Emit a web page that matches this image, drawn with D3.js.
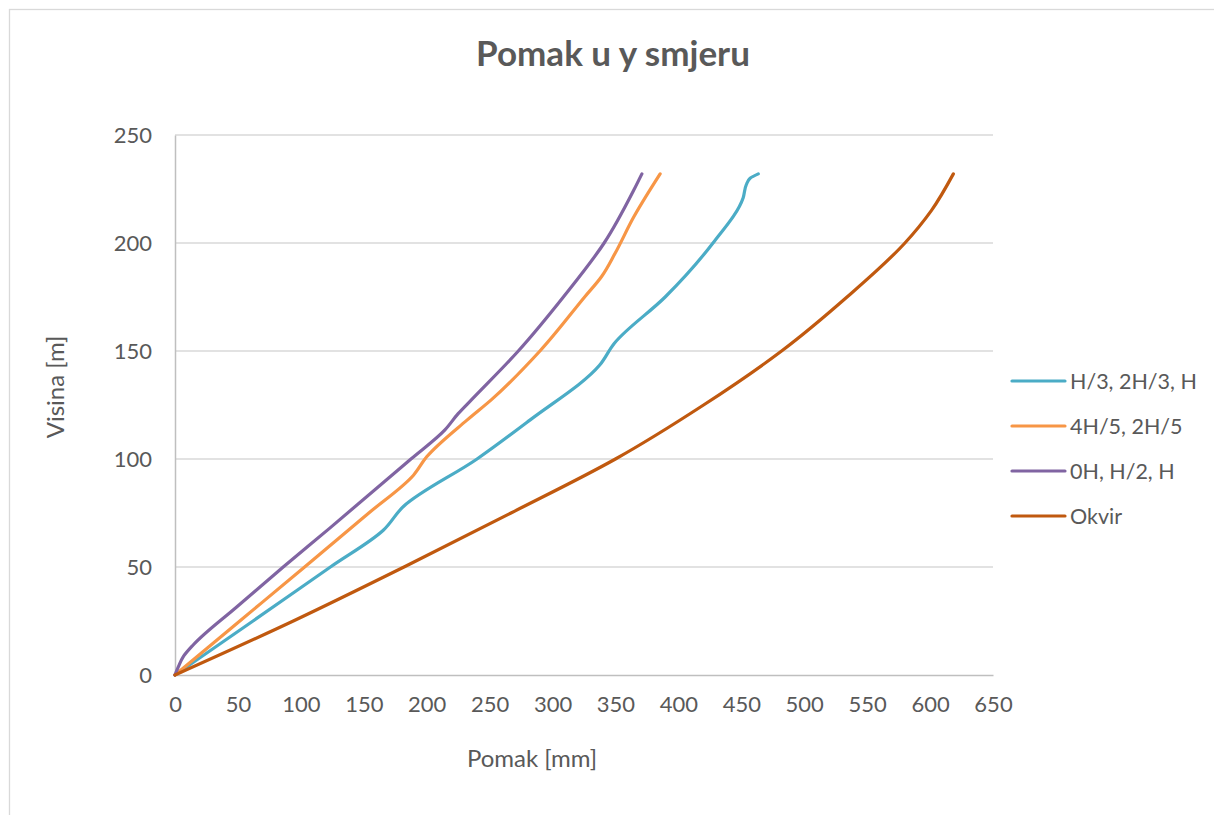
<!DOCTYPE html>
<html>
<head>
<meta charset="utf-8">
<script src="https://cdn.jsdelivr.net/npm/d3@7"></script>
<style>
  html, body { margin: 0; padding: 0; background: #ffffff; }
  svg { display: block; font-family: Lato, "Open Sans", sans-serif; }
</style>
</head>
<body>
<svg id="chart" width="1214" height="815"></svg>
<script>
// Storey heights [m] and lateral displacements [mm] per model
const hCyan   = [0, 25, 50, 67, 78, 100, 118, 143.5, 153.5, 175, 200, 221, 227, 230, 232];
const vCyan   = [0, 62, 123.5, 165.5, 181.5, 240, 282, 337.5, 349, 389.5, 427.5, 451.5, 454, 457, 463.5];

const hOrange = [0, 25, 50, 75, 92.5, 101, 118, 127.5, 150, 175, 184.5, 195, 212, 232];
const vOrange = [0, 51.5, 103, 154, 189.5, 200, 232, 251.5, 290, 325.5, 339, 349.5, 364.5, 385.5];

const hPurple = [0, 4, 8.5, 14, 31.5, 50, 68, 100, 113.5, 121, 127.5, 150, 175, 200, 225, 232];
const vPurple = [0, 2.8, 6.6, 14.6, 49, 86, 123, 187.5, 214.5, 225, 235.7, 272.8, 308.6, 341, 365, 371];

const hOkvir  = [0, 25, 50, 75, 100, 125, 150, 175, 200, 215, 232];
const vOkvir  = [0, 94, 182, 267, 350, 420, 482, 534, 580, 601, 618.5];

const seriesNames  = ["H/3, 2H/3, H", "4H/5, 2H/5", "0H, H/2, H", "Okvir"];
const seriesColors = ["#4BACC6", "#F79646", "#8064A2", "#C0590F"];

const xTicks = [0, 50, 100, 150, 200, 250, 300, 350, 400, 450, 500, 550, 600, 650];
const yTicks = [0, 50, 100, 150, 200, 250];

const chartTitle = "Pomak u y smjeru";
const xTitle = "Pomak [mm]";
const yTitle = "Visina [m]";

const series = [
  { h: hCyan,   v: vCyan },
  { h: hOrange, v: vOrange },
  { h: hPurple, v: vPurple },
  { h: hOkvir,  v: vOkvir }
].map((s, i) => ({
  name: seriesNames[i],
  color: seriesColors[i],
  points: s.h.map((h, j) => ({ h: h, v: s.v[j] }))
}));

const svg = d3.select("#chart");
const textColor = "#595959";

// outer chart frame
svg.append("rect")
  .attr("x", 9.5).attr("y", 9.5)
  .attr("width", 1240).attr("height", 840)
  .attr("fill", "#ffffff")
  .attr("stroke", "#D9D9D9")
  .attr("stroke-width", 1.3);

const plot = { left: 175, right: 993, top: 135, bottom: 675 };

const x = d3.scaleLinear().domain([0, 650]).range([plot.left, plot.right]);
const y = d3.scaleLinear().domain([0, 250]).range([plot.bottom, plot.top]);

// horizontal gridlines
svg.append("g")
  .selectAll("line")
  .data(yTicks.filter(t => t > 0))
  .join("line")
  .attr("x1", plot.left).attr("x2", plot.right)
  .attr("y1", d => y(d)).attr("y2", d => y(d))
  .attr("stroke", "#D9D9D9")
  .attr("stroke-width", 1.5);

// y axis
const yAxis = svg.append("g")
  .attr("transform", `translate(${plot.left},0)`)
  .call(d3.axisLeft(y).tickValues(yTicks).tickSize(0).tickPadding(23));
yAxis.select(".domain").attr("stroke", "#BFBFBF").attr("stroke-width", 1.5);
yAxis.selectAll("text")
  .attr("fill", textColor)
  .style("font-size", "22px")
  .style("font-family", "Lato, 'Open Sans', sans-serif");

// x axis
const xAxis = svg.append("g")
  .attr("transform", `translate(0,${plot.bottom})`)
  .call(d3.axisBottom(x).tickValues(xTicks).tickSize(0).tickPadding(21));
xAxis.select(".domain").attr("stroke", "#BFBFBF").attr("stroke-width", 1.5);
xAxis.selectAll("text")
  .attr("fill", textColor)
  .style("font-size", "22px")
  .style("font-family", "Lato, 'Open Sans', sans-serif");

// series lines
const line = d3.line()
  .x(d => x(d.v))
  .y(d => y(d.h))
  .curve(d3.curveMonotoneY);

svg.append("g")
  .selectAll("path")
  .data(series)
  .join("path")
  .attr("d", d => line(d.points))
  .attr("fill", "none")
  .attr("stroke", d => d.color)
  .attr("stroke-width", 3.2)
  .attr("stroke-linecap", "round")
  .attr("stroke-linejoin", "round");

// title
svg.append("text")
  .attr("x", 613).attr("y", 66)
  .attr("text-anchor", "middle")
  .attr("fill", textColor)
  .style("font-size", "35px")
  .style("font-weight", "bold")
  .text(chartTitle);

// axis titles
svg.append("text")
  .attr("x", 532).attr("y", 767)
  .attr("text-anchor", "middle")
  .attr("fill", textColor)
  .style("font-size", "24px")
  .text(xTitle);

svg.append("text")
  .attr("transform", "translate(64,387) rotate(-90)")
  .attr("text-anchor", "middle")
  .attr("fill", textColor)
  .style("font-size", "24px")
  .text(yTitle);

// legend
const legend = svg.append("g")
  .selectAll("g")
  .data(series)
  .join("g")
  .attr("transform", (d, i) => `translate(1012,${381 + i * 45})`);

legend.append("line")
  .attr("x1", 0).attr("x2", 53)
  .attr("y1", 0).attr("y2", 0)
  .attr("stroke", d => d.color)
  .attr("stroke-width", 3.2)
  .attr("stroke-linecap", "round");

legend.append("text")
  .attr("x", 58).attr("y", 8)
  .attr("fill", textColor)
  .style("font-size", "21.5px")
  .text(d => d.name);
</script>
</body>
</html>
